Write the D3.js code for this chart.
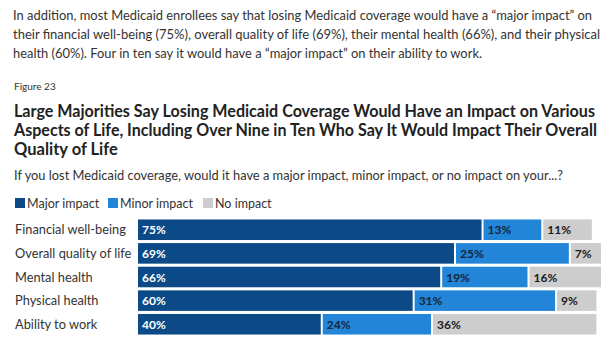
<!DOCTYPE html>
<html lang="en">
  <head>
    <meta charset="UTF-8" />
    <title>Medicaid impact</title>
    <style>
      body {
        margin: 0;
        background: #fff;
      }
      svg text {
        font-family: "Source Sans Pro", Lato, "Noto Sans", sans-serif;
        fill: #333;
      }
      .title {
        font-weight: 700;
        font-size: 16.5px;
        fill: #222;
      }
      .seg-label {
        font-weight: 700;
        font-size: 12px;
      }
    </style>
  </head>
  <body>
    <div class="container"></div>

    <script src="https://d3js.org/d3.v7.min.js"></script>
    <script>
      // data
      const categories = [
        "Financial well-being",
        "Overall quality of life",
        "Mental health",
        "Physical health",
        "Ability to work",
      ];
      const seriesNames = ["Major impact", "Minor impact", "No impact"];
      const majorImpact = [75, 69, 66, 60, 40];
      const minorImpact = [13, 25, 19, 31, 24];
      const noImpact = [11, 7, 16, 9, 36];

      const introLines = [
        "In addition, most Medicaid enrollees say that losing Medicaid coverage would have a \u201cmajor impact\u201d on",
        "their financial well-being (75%), overall quality of life (69%), their mental health (66%), and their physical",
        "health (60%). Four in ten say it would have a \u201cmajor impact\u201d on their ability to work.",
      ];
      const titleLines = [
        "Large Majorities Say Losing Medicaid Coverage Would Have an Impact on Various",
        "Aspects of Life, Including Over Nine in Ten Who Say It Would Impact Their Overall",
        "Quality of Life",
      ];
      const subtitle =
        "If you lost Medicaid coverage, would it have a major impact, minor impact, or no impact on your...?";

      const colors = ["#0b4a86", "#2285d8", "#cdcdcd"];
      const labelColors = ["#fff", "#16263a", "#1a1a1a"];

      // widths the text lines take up in the reference
      const introWidths = [579, 587, 469];
      const titleWidths = [581, 583, null];

      // svg
      const width = 612,
        height = 350;
      const svg = d3
        .select(".container")
        .append("svg")
        .attr("width", width)
        .attr("height", height);

      // intro paragraph
      svg
        .append("g")
        .selectAll("text")
        .data(introLines)
        .join("text")
        .attr("x", 13)
        .attr("y", (d, i) => 20 + i * 19)
        .attr("textLength", (d, i) => introWidths[i])
        .attr("lengthAdjust", "spacingAndGlyphs")
        .style("font-size", "13px")
        .text((d) => d);

      svg
        .append("text")
        .attr("x", 14)
        .attr("y", 90)
        .style("font-size", "10px")
        .text("Figure 23");

      const title = svg
        .append("g")
        .selectAll("text")
        .data(titleLines)
        .join("text")
        .attr("class", "title")
        .attr("x", 14)
        .attr("y", (d, i) => 116.5 + i * 19)
        .text((d) => d);
      title
        .filter((d, i) => titleWidths[i])
        .attr("textLength", (d, i) => titleWidths[i])
        .attr("lengthAdjust", "spacingAndGlyphs");

      svg
        .append("text")
        .attr("x", 14)
        .attr("y", 180)
        .attr("textLength", 549)
        .attr("lengthAdjust", "spacingAndGlyphs")
        .style("font-size", "12.5px")
        .text(subtitle);

      // legend
      const legend = svg.append("g").attr("transform", "translate(15,198)");
      const legendX = [0, 93, 188];
      const lg = legend
        .selectAll("g")
        .data(seriesNames)
        .join("g")
        .attr("transform", (d, i) => `translate(${legendX[i]},0)`);
      lg.append("rect")
        .attr("width", 10)
        .attr("height", 10)
        .attr("fill", (d, i) => colors[i]);
      lg.append("text")
        .attr("x", 12)
        .attr("y", 9.5)
        .style("font-size", "12.5px")
        .text((d) => d);

      // scales
      const x = d3.scaleLinear().domain([0, 101]).range([138, 602]);
      const y = d3
        .scaleBand()
        .domain(categories)
        .range([219, 335])
        .paddingInner(0.13)
        .paddingOuter(0.02);

      const rows = categories.map((c, i) => {
        const vals = [majorImpact[i], minorImpact[i], noImpact[i]];
        let acc = 0;
        return vals.map((v, k) => {
          const seg = { cat: c, k, v, x0: acc, x1: acc + v };
          acc += v;
          return seg;
        });
      });

      // category labels
      svg
        .append("g")
        .selectAll("text")
        .data(categories)
        .join("text")
        .attr("x", 15)
        .attr("y", (d) => y(d) + y.bandwidth() / 2 + 4.5)
        .style("font-size", "12.8px")
        .text((d) => d);

      // bars
      const segs = svg
        .append("g")
        .selectAll("g")
        .data(rows.flat())
        .join("g");

      segs
        .append("rect")
        .attr("x", (d) => x(d.x0) + (d.k > 0 ? 1 : 0))
        .attr("y", (d) => y(d.cat))
        .attr("width", (d) => x(d.x1) - x(d.x0) - (d.k > 0 ? 1 : 0) - 1)
        .attr("height", y.bandwidth())
        .attr("fill", (d) => colors[d.k]);

      segs
        .append("text")
        .attr("class", "seg-label")
        .attr("x", (d) => x(d.x0) + (d.k > 0 ? 5 : 4))
        .attr("y", (d) => y(d.cat) + y.bandwidth() / 2 + 4.5)
        .style("fill", (d) => labelColors[d.k])
        .text((d) => d.v + "%");
    </script>
  </body>
</html>
